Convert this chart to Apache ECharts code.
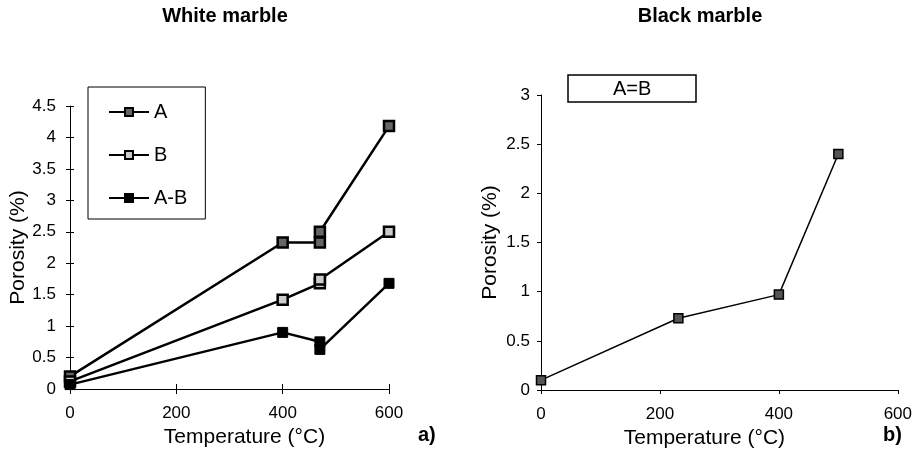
<!DOCTYPE html>
<html><head><meta charset="utf-8">
<script src="https://cdn.jsdelivr.net/npm/echarts@6/dist/echarts.min.js"></script>
<style>html,body{margin:0;padding:0;background:#fff}#c{width:915px;height:454px}</style>
</head><body><div id="c"></div>
<script>
const titleLeft = 'White marble';
const titleRight = 'Black marble';
const xName = 'Temperature (°C)';
const yName = 'Porosity (%)';
const seriesA = [[0,0.2],[400,2.33],[470,2.33],[470,2.5],[600,4.18]];
const seriesB = [[0,0.12],[400,1.42],[470,1.68],[470,1.74],[600,2.5]];
const seriesAB = [[0,0.07],[400,0.9],[470,0.75],[470,0.63],[600,1.68]];
const seriesBlack = [[0,0.1],[231,0.73],[400,0.97],[500,2.4]];
const namesLeft = ['A','B','A-B'];
const nameRight = 'A=B';

const font = 'Liberation Sans, Arial, sans-serif';
const chart = echarts.init(document.getElementById('c'), null, {renderer:'canvas'});
function xAx(i,pad,inside,len){return {type:'value',gridIndex:i,min:0,max:600,interval:200,
  axisLine:{lineStyle:{color:'#000',width:1}},axisTick:{inside:inside,length:len,lineStyle:{color:'#000'}},
  splitLine:{show:false},axisLabel:{color:'#000',fontSize:17,fontFamily:font,margin:16},
  name:xName,nameLocation:'middle',nameGap:31,nameTextStyle:{color:'#000',fontSize:21,fontFamily:font,padding:pad}};}
function xAx2(i){return {type:'value',gridIndex:i,min:0,max:600,interval:200,position:'bottom',
  axisLine:{show:false},axisTick:{show:true,inside:false,length:5,lineStyle:{color:'#000'}},
  splitLine:{show:false},axisLabel:{show:false}};}
function yAx(i,max,margin){return {type:'value',gridIndex:i,min:0,max:max,interval:0.5,
  axisLine:{show:true,lineStyle:{color:'#000',width:1}},axisTick:{show:true,length:4,lineStyle:{color:'#000'}},
  splitLine:{show:false},axisLabel:{color:'#000',fontSize:17,fontFamily:font,margin:margin},
  name:yName,nameLocation:'middle',nameGap:40,nameTextStyle:{color:'#000',fontSize:21,fontFamily:font}};}
function yAx2(i,max){return {type:'value',gridIndex:i,min:0,max:max,interval:0.5,position:'left',
  axisLine:{show:false},axisTick:{show:true,inside:true,length:4,lineStyle:{color:'#000'}},
  splitLine:{show:false},axisLabel:{show:false}};}
function ser(name,data,fill,g,bw,size,lw){return {name:name,type:'line',xAxisIndex:g,yAxisIndex:g,data:data,
  symbol:'rect',symbolSize:size,lineStyle:{color:'#000',width:lw},
  itemStyle:{color:fill,borderColor:'#000',borderWidth:bw},animation:false};}
const tStyle = {fontSize:20,fontWeight:'bold',fontFamily:font,color:'#000'};
chart.setOption({
  animation:false,
  title:[
    {text:titleLeft,left:225,top:6,padding:0,textAlign:'center',textStyle:tStyle},
    {text:titleRight,left:700,top:6,padding:0,textAlign:'center',textStyle:tStyle},
    {text:'a)',left:418,top:425,padding:0,textStyle:tStyle},
    {text:'b)',left:883,top:425,padding:0,textStyle:tStyle},
    {text:nameRight,left:568,top:75,padding:[4,45,3,45],borderColor:'#000',borderWidth:1.5,
     textStyle:{fontSize:20,fontWeight:'normal',fontFamily:font,color:'#000'}}
  ],
  legend:{orient:'vertical',left:88,top:87,padding:[15,18,11,20],itemGap:23,itemWidth:40,itemHeight:10,
    borderColor:'#000',borderWidth:1,data:namesLeft,textStyle:{fontSize:20,fontFamily:font,color:'#000'}},
  grid:[{left:70,top:106,width:319,height:283},{left:541,top:95,width:357,height:295}],
  xAxis:[xAx(0,[0,0,0,30],true,5),xAx(1,[0,30,0,0],false,4),xAx2(0)],
  yAxis:[yAx(0,4.5,14),yAx(1,3,11),yAx2(0,4.5)],
  series:[ser(namesLeft[0],seriesA,'#666',0,2.5,10,2.5),ser(namesLeft[1],seriesB,'#ccc',0,2.5,10,2.5),
    ser(namesLeft[2],seriesAB,'#000',0,1,10,2.5),
    ser(nameRight,seriesBlack,'#555',1,1.5,9,1.5)]
});
</script></body></html>
